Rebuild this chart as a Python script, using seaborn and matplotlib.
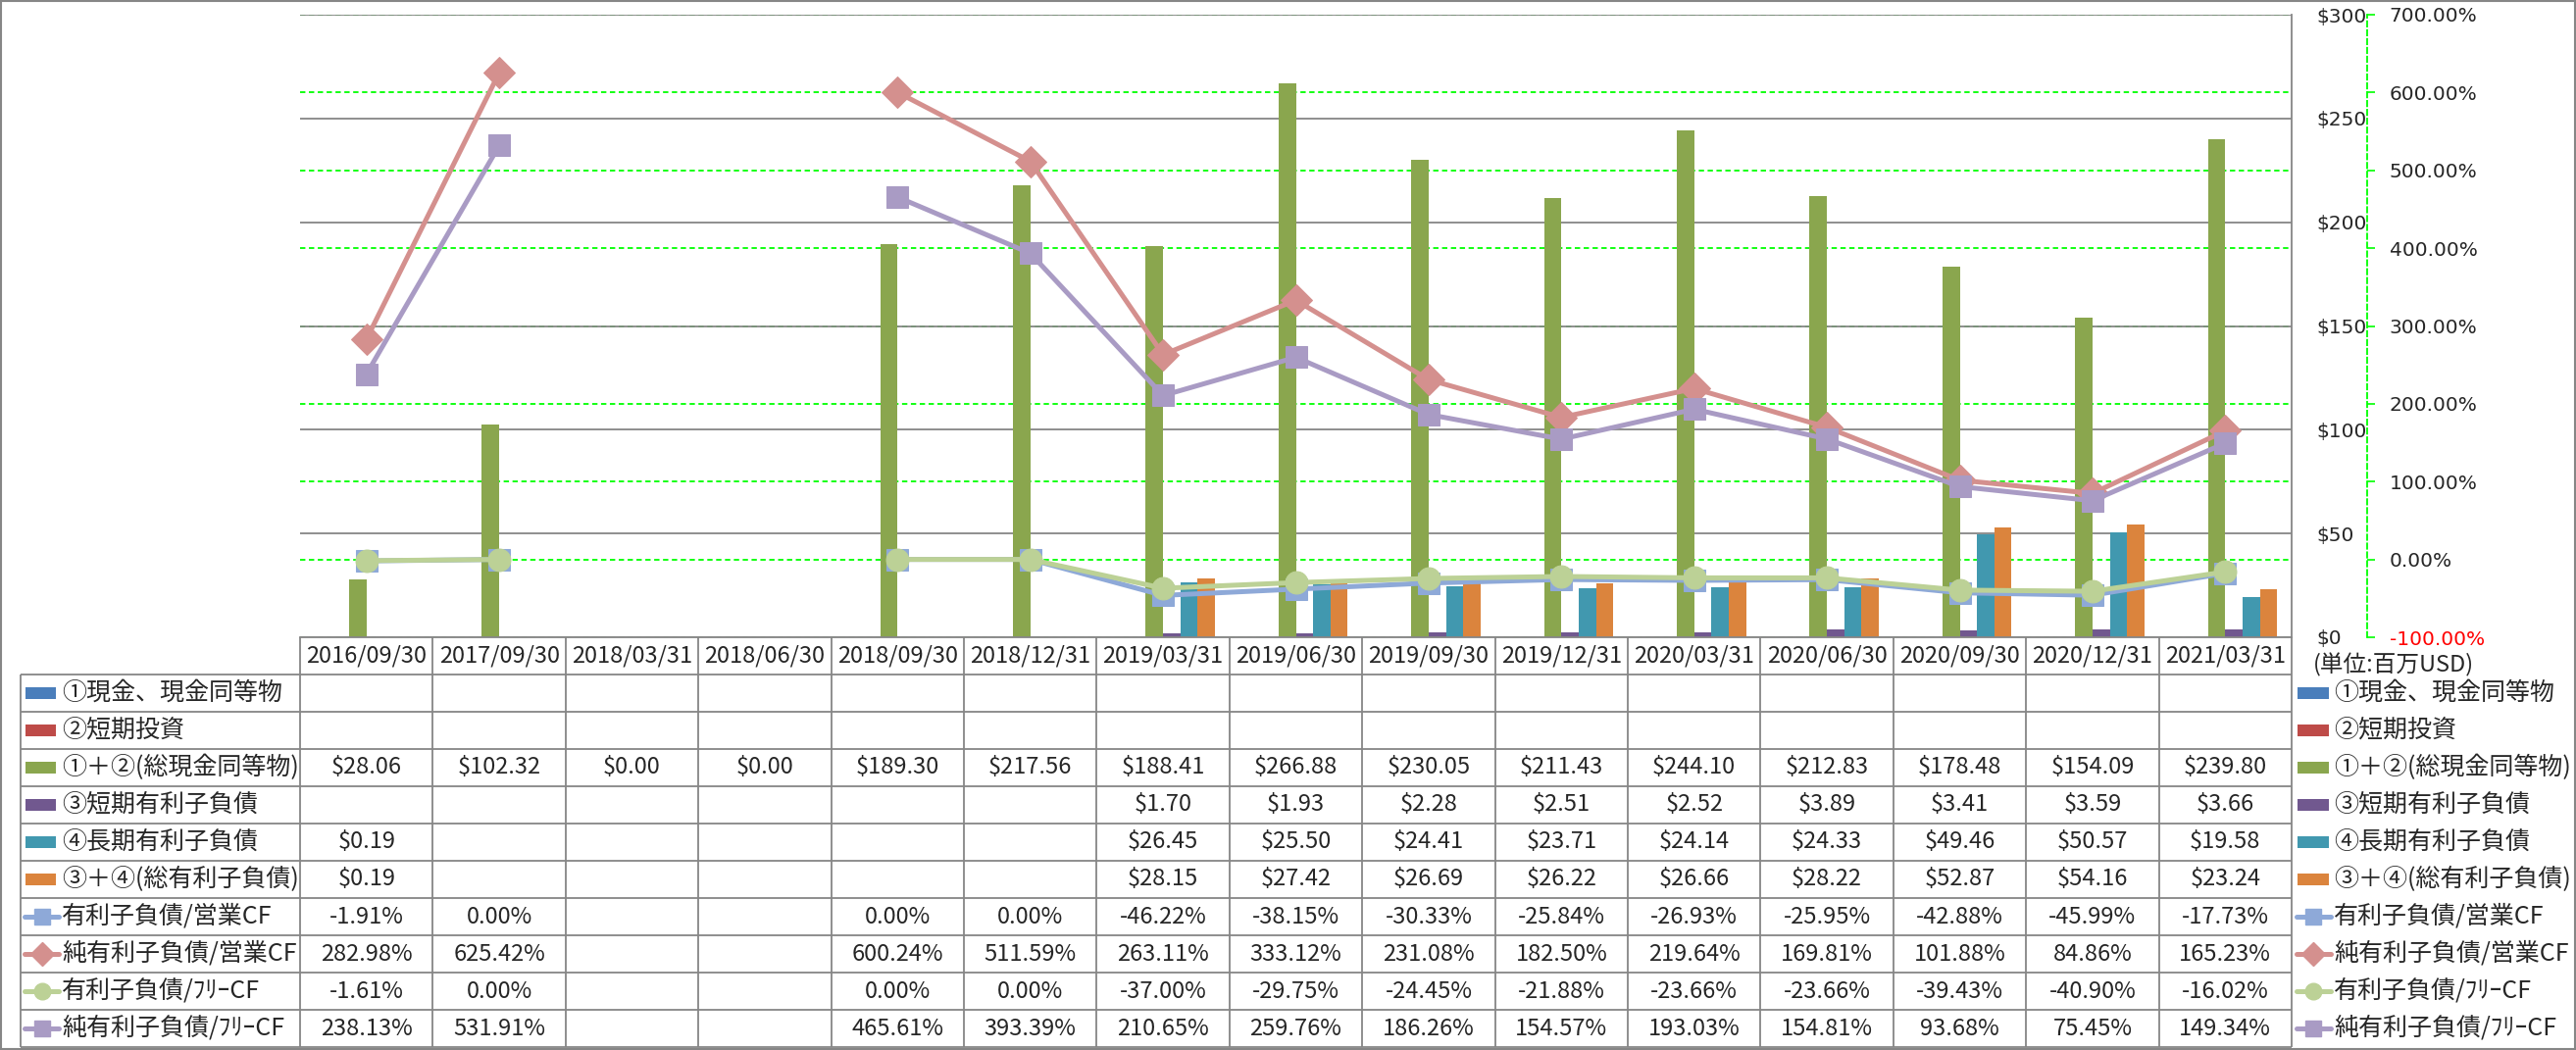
import numpy as np
import pandas as pd
import matplotlib.pyplot as plt
import matplotlib.ticker as mticker
from matplotlib.patches import Rectangle
import seaborn as sns

# === Setup ===
sns.set_theme(style="white")
plt.rcParams["font.family"] = ["Noto Sans CJK JP", "DejaVu Sans"]
nan = np.nan

# === Data ===
dates = ["2016/09/30", "2017/09/30", "2018/03/31", "2018/06/30", "2018/09/30",
         "2018/12/31", "2019/03/31", "2019/06/30", "2019/09/30", "2019/12/31",
         "2020/03/31", "2020/06/30", "2020/09/30", "2020/12/31", "2021/03/31"]

bar_names = ["①現金、現金同等物", "②短期投資", "①＋②(総現金同等物)",
             "③短期有利子負債", "④長期有利子負債", "③＋④(総有利子負債)"]
cash = [nan] * 15
short_invest = [nan] * 15
total_cash = [28.06, 102.32, 0.00, 0.00, 189.30, 217.56, 188.41, 266.88, 230.05,
              211.43, 244.10, 212.83, 178.48, 154.09, 239.80]
short_debt = [nan, nan, nan, nan, nan, nan, 1.70, 1.93, 2.28, 2.51, 2.52, 3.89,
              3.41, 3.59, 3.66]
long_debt = [0.19, nan, nan, nan, nan, nan, 26.45, 25.50, 24.41, 23.71, 24.14,
             24.33, 49.46, 50.57, 19.58]
total_debt = [0.19, nan, nan, nan, nan, nan, 28.15, 27.42, 26.69, 26.22, 26.66,
              28.22, 52.87, 54.16, 23.24]
bar_values = [cash, short_invest, total_cash, short_debt, long_debt, total_debt]

line_names = ["有利子負債/営業CF", "純有利子負債/営業CF", "有利子負債/ﾌﾘｰCF", "純有利子負債/ﾌﾘｰCF"]
debt_ocf = [-1.91, 0.00, nan, nan, 0.00, 0.00, -46.22, -38.15, -30.33, -25.84,
            -26.93, -25.95, -42.88, -45.99, -17.73]
net_debt_ocf = [282.98, 625.42, nan, nan, 600.24, 511.59, 263.11, 333.12, 231.08,
                182.50, 219.64, 169.81, 101.88, 84.86, 165.23]
debt_fcf = [-1.61, 0.00, nan, nan, 0.00, 0.00, -37.00, -29.75, -24.45, -21.88,
            -23.66, -23.66, -39.43, -40.90, -16.02]
net_debt_fcf = [238.13, 531.91, nan, nan, 465.61, 393.39, 210.65, 259.76, 186.26,
                154.57, 193.03, 154.81, 93.68, 75.45, 149.34]
line_values = [debt_ocf, net_debt_ocf, debt_fcf, net_debt_fcf]

usd_ticks = [0, 50, 100, 150, 200, 250, 300]
pct_ticks = [-100, 0, 100, 200, 300, 400, 500, 600, 700]

# === Styles ===
bar_colors = ["#4A7EBB", "#BE4B48", "#8AA64E", "#71588F", "#4198AF", "#DB843D"]
line_colors = ["#8EA9D8", "#D4908E", "#BCD196", "#A99BC4"]
line_markers = ["s", "D", "o", "s"]
line_ms = [16.5, 16.5, 16.5, 16.5]
key_ms = [12, 12, 12, 12]
grid_gray = "#868686"
lime = "#00FF00"
axis_font = "DejaVu Sans"
axis_fs = 14.5

W, H = 2627, 1071
def fx(px): return px / W
def fy(py): return 1 - py / H

plot_l, plot_r, plot_t, plot_b = 306, 2337, 15, 650
rect = [fx(plot_l), fy(plot_b), fx(plot_r) - fx(plot_l), fy(plot_t) - fy(plot_b)]

fig = plt.figure(figsize=(W / 100, H / 100), dpi=100)

# green dashed grid of the % axis, kept behind the bars
ax_g = fig.add_axes(rect, zorder=0)
ax_g.set_ylim(pct_ticks[0], pct_ticks[-1])
ax_g.set_yticks(pct_ticks)
ax_g.set_xlim(-0.5, len(dates) - 0.5)
ax_g.grid(axis="y", color=lime, linestyle=(0, (3, 2)), linewidth=1.3)
ax_g.grid(axis="x", visible=False)
ax_g.tick_params(left=False, bottom=False, labelleft=False, labelbottom=False)
for s in ax_g.spines.values():
    s.set_visible(False)

# === Bars ($) ===
ax = fig.add_axes(rect, zorder=1)
ax.patch.set_visible(False)
bar_df = pd.DataFrame({
    "date": dates * len(bar_names),
    "series": np.repeat(bar_names, len(dates)),
    "value": np.concatenate(bar_values),
})
sns.barplot(data=bar_df, x="date", y="value", hue="series", order=dates,
            hue_order=bar_names, palette=bar_colors, width=0.78, saturation=1,
            errorbar=None, legend=False, linewidth=0, ax=ax)

# === Lines (%) ===
ax2 = ax.twinx()
for vals, color, marker, ms in zip(line_values, line_colors, line_markers, line_ms):
    s = pd.Series(vals)
    ok = s.notna()
    seg_id = (~ok).cumsum()
    for _, seg in s[ok].groupby(seg_id[ok]):
        sns.lineplot(x=seg.index, y=seg.values, ax=ax2, color=color, linewidth=3.6,
                     marker=marker, markersize=ms, markeredgecolor=color,
                     legend=False)

# $ axis (labels on the right, next to the plot)
ax.set_ylim(usd_ticks[0], usd_ticks[-1])
ax.set_yticks(usd_ticks, [f"${v}" for v in usd_ticks])
ax.yaxis.tick_right()
ax.tick_params(axis="y", length=0, pad=18, labelsize=axis_fs)
ax.tick_params(axis="x", length=0, labelbottom=False)
ax.set_xlabel("")
ax.set_ylabel("")
ax.set_axisbelow(True)
ax.grid(axis="y", color=grid_gray, linewidth=1.3)
ax.grid(axis="x", visible=False)
for side in ["left", "top"]:
    ax.spines[side].set_visible(False)
for side in ["right", "bottom"]:
    ax.spines[side].set_visible(True)
    ax.spines[side].set_color(grid_gray)
    ax.spines[side].set_linewidth(1.3)
plt.setp(ax.get_yticklabels(), fontfamily=axis_font)

# % axis (offset outward, green dashed)
ax2.set_ylim(pct_ticks[0], pct_ticks[-1])
ax2.set_yticks(pct_ticks, [f"{v:.2f}%" for v in pct_ticks])
ax2.spines["right"].set_position(("outward", 77 * 0.72))
ax2.spines["right"].set_color(lime)
ax2.spines["right"].set_linestyle((0, (3, 2)))
ax2.spines["right"].set_linewidth(1.3)
for side in ["left", "top", "bottom"]:
    ax2.spines[side].set_visible(False)
ax2.tick_params(axis="y", direction="out", length=8 * 0.72, width=1.2, color=lime,
                pad=10.5, labelsize=axis_fs)
ax2.set_ylabel("")
ax2.grid(False)
for lab, v in zip(ax2.get_yticklabels(), pct_ticks):
    lab.set_fontfamily(axis_font)
    if v < 0:
        lab.set_color("red")
ax.set_xlim(-0.5, len(dates) - 0.5)

# === Data table ===
col_px = (plot_r - plot_l) / len(dates)
def tx(px): return -0.5 + (px - plot_l) / col_px

tab_l, tab_b = 21, 1068
n_rows = 1 + len(bar_names) + len(line_names)
ax_t = fig.add_axes([fx(tab_l), fy(tab_b), fx(plot_r) - fx(tab_l), fy(plot_b) - fy(tab_b)])
ax_t.set_xlim(tx(tab_l), len(dates) - 0.5)
ax_t.set_ylim(n_rows, 0)
ax_t.axis("off")

line_kw = dict(color=grid_gray, linewidth=1.3, clip_on=False)
ax_t.vlines([k - 0.5 for k in range(len(dates) + 1)], 0, n_rows, **line_kw)
ax_t.vlines(tx(tab_l), 1, n_rows, **line_kw)
ax_t.hlines(range(1, n_rows + 1), tx(tab_l), len(dates) - 0.5, **line_kw)

fs_cell = 17
fs_label = 18
for i, d in enumerate(dates):
    ax_t.text(i, 0.5, d, ha="center", va="center", fontsize=fs_cell)

def fmt_usd(v):
    return "" if np.isnan(v) else f"${v:,.2f}"

def fmt_pct(v):
    return "" if np.isnan(v) else f"{v:.2f}%"

rows = [(n, v, fmt_usd) for n, v in zip(bar_names, bar_values)] + \
       [(n, v, fmt_pct) for n, v in zip(line_names, line_values)]
for r, (name, vals, fmt) in enumerate(rows, start=1):
    for i, v in enumerate(vals):
        txt = fmt(v)
        if txt:
            ax_t.text(i, r + 0.5, txt, ha="center", va="center", fontsize=fs_cell)

# legend keys: inside the table (left) and beside it (right)
key_sets = [(26, 57, 63, 25, 60), (2343, 2375, 2380, 2342, 2377)]
for pl, pr, ptxt, ll, lr in key_sets:
    for r, name in enumerate(bar_names, start=1):
        ax_t.add_patch(Rectangle((tx(pl), r + 0.5 - 6 / 38), tx(pr) - tx(pl), 12 / 38,
                                 facecolor=bar_colors[r - 1], edgecolor="none",
                                 clip_on=False))
        ax_t.text(tx(ptxt), r + 0.5, name, ha="left", va="center", fontsize=fs_label,
                  clip_on=False)
    for j, name in enumerate(line_names):
        r = 1 + len(bar_names) + j
        ax_t.plot([tx(ll), tx(lr)], [r + 0.5, r + 0.5], color=line_colors[j],
                  linewidth=3.6, clip_on=False)
        ax_t.plot([(tx(ll) + tx(lr)) / 2], [r + 0.5], marker=line_markers[j],
                  markersize=key_ms[j], color=line_colors[j], clip_on=False)
        ax_t.text(tx(ptxt), r + 0.5, name, ha="left", va="center", fontsize=fs_label,
                  clip_on=False)

fig.text(fx(2359), fy(678), "(単位:百万USD)", ha="left", va="center", fontsize=17)

# outer frame
fig.add_artist(Rectangle((0.0005, 0.001), 0.999, 0.998, transform=fig.transFigure,
                         fill=False, edgecolor=grid_gray, linewidth=1.5))

fig.savefig("out.png", dpi=100)
